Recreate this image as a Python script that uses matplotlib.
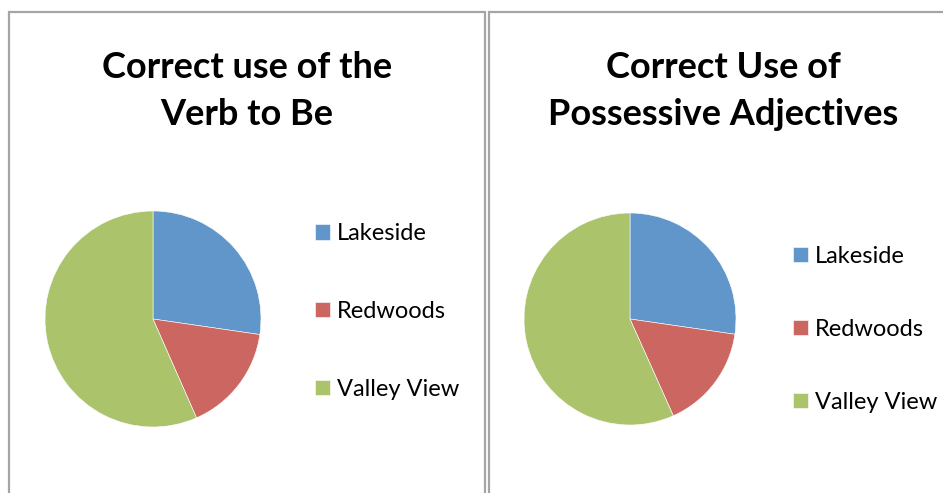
import matplotlib.pyplot as plt
from matplotlib.patches import Rectangle

# data
schools = ['Lakeside', 'Redwoods', 'Valley View']
verb_to_be = [27.3, 16.1, 56.6]
possessive_adj = [27.3, 16.0, 56.7]
colors = ['#6096c9', '#cc6661', '#abc46c']
titles = [['Correct use of the', 'Verb to Be'],
          ['Correct Use of', 'Possessive Adjectives']]

W, H = 943, 493
plt.rcParams['font.family'] = ['Lato', 'DejaVu Sans']

fig = plt.figure(figsize=(W / 100, H / 100), dpi=100)


def px(x, y):
    # pixel coords (top-left origin) -> figure fraction
    return x / W, 1 - y / H


# panel borders
for x0, x1 in [(9, 485), (489, 960)]:
    fig.add_artist(Rectangle(px(x0, 520), (x1 - x0) / W, (520 - 12) / H,
                             transform=fig.transFigure, fill=False,
                             edgecolor='#a5a5a5', linewidth=1.6))

panels = [
    dict(vals=verb_to_be, title=titles[0], cx=153, cy=319, r=108,
         tx=247, leg_x=315, leg_y=311.5, spacing=2.4),
    dict(vals=possessive_adj, title=titles[1], cx=630, cy=319, r=106,
         tx=723, leg_x=793, leg_y=329.5, spacing=2.2),
]

for p in panels:
    r = p['r']
    l, b = px(p['cx'] - r, p['cy'] + r)
    ax = fig.add_axes([l, b, 2 * r / W, 2 * r / H])
    wedges, _ = ax.pie(p['vals'], colors=colors, startangle=90, counterclock=False,
                       radius=1, wedgeprops=dict(edgecolor='white', linewidth=0.4))
    ax.set_xlim(-1, 1)
    ax.set_ylim(-1, 1)
    ax.set_aspect('equal')
    ax.axis('off')

    # title, two lines
    for i, line in enumerate(p['title']):
        fig.text(*px(p['tx'], 78 + 47 * i), line, ha='center', va='baseline',
                 fontsize=26, fontweight='bold', color='black')

    fig.legend(wedges, schools, loc='center left',
               bbox_to_anchor=px(p['leg_x'], p['leg_y']),
               frameon=False, fontsize=17, handlelength=0.63, handleheight=0.63,
               handletextpad=0.3, labelspacing=p['spacing'],
               borderpad=0, borderaxespad=0)

fig.savefig('out.png', dpi=100)
